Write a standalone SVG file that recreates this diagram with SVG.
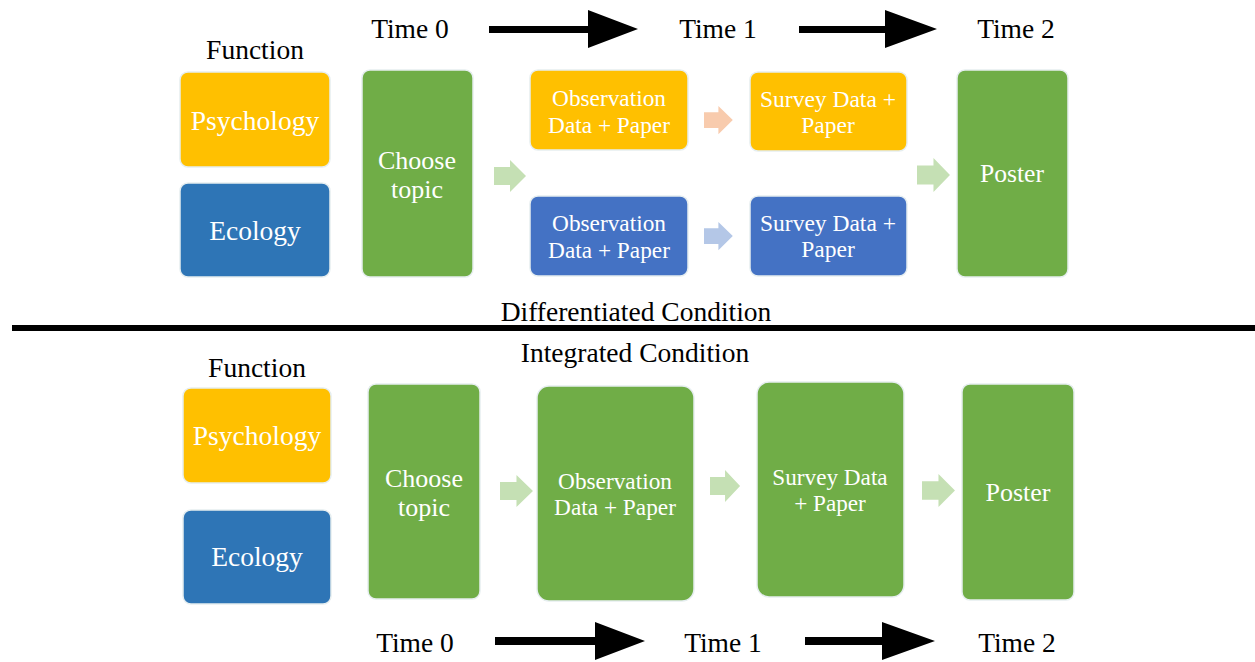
<svg xmlns="http://www.w3.org/2000/svg" xmlns:xlink="http://www.w3.org/1999/xlink" width="1255" height="662" viewBox="0 0 1255 662" font-family="'Liberation Serif', 'Times New Roman', serif">
<style>
text{font-family:'Liberation Serif','Times New Roman',serif}
.lbl{fill:#000;text-anchor:middle;font-size:27.5px}
.t{fill:#fff;text-anchor:middle}
.box{stroke:#e6eef0;stroke-width:1.5}
.or{fill:#FFC000}.bl{fill:#2E75B6}.bl2{fill:#4472C4}.gr{fill:#70AD47}
</style>
<defs>
<path id="blk" d="M0,7 H16 V0 L32,16 L16,32 V25 H0 Z"/>
</defs>
<rect width="1255" height="662" fill="#fff"/>

<g id="timeline-top">
<text class="lbl" x="410" y="38">Time 0</text>
<text class="lbl" x="718" y="38">Time 1</text>
<text class="lbl" x="1016" y="38">Time 2</text>
<path d="M489,26 H588 V10 L638,29 L588,48 V33 H489 Z" fill="#000"/>
<path d="M799,26 H885 V10 L937,29 L885,48 V33 H799 Z" fill="#000"/>
</g>

<text class="lbl" x="255" y="59">Function</text>

<g id="psych-top"><rect class="box or" x="180" y="72" width="150" height="95" rx="8"/><text class="t" x="255" y="130" font-size="27.5">Psychology</text></g>
<g id="eco-top"><rect class="box bl" x="180" y="183" width="150" height="94" rx="8"/><text class="t" x="255" y="240" font-size="27.5">Ecology</text></g>
<g id="choose-top"><rect class="box gr" x="362" y="70" width="111" height="207" rx="8"/><text class="t" x="417" y="169" font-size="26">Choose</text><text class="t" x="417" y="198" font-size="26">topic</text></g>
<g id="obs-top-psy"><rect class="box or" x="530" y="70" width="158" height="80" rx="8"/><text class="t" x="609" y="106" font-size="23.3">Observation</text><text class="t" x="609" y="133" font-size="23.3">Data + Paper</text></g>
<g id="obs-top-eco"><rect class="box bl2" x="530" y="196" width="158" height="80" rx="8"/><text class="t" x="609" y="231" font-size="23.3">Observation</text><text class="t" x="609" y="258" font-size="23.3">Data + Paper</text></g>
<g id="survey-top-psy"><rect class="box or" x="750" y="72" width="157" height="79" rx="8"/><text class="t" x="828" y="107" font-size="23.5">Survey Data +</text><text class="t" x="828" y="133" font-size="23.5">Paper</text></g>
<g id="survey-top-eco"><rect class="box bl2" x="750" y="196" width="157" height="80" rx="8"/><text class="t" x="828" y="231" font-size="23.5">Survey Data +</text><text class="t" x="828" y="257" font-size="23.5">Paper</text></g>
<g id="poster-top"><rect class="box gr" x="957" y="70" width="111" height="207" rx="8"/><text class="t" x="1012" y="182" font-size="25.6">Poster</text></g>

<g id="connectors">
<use xlink:href="#blk" fill="#C5E0B4" transform="translate(494,160)"/>
<use xlink:href="#blk" fill="#F8CBAD" transform="translate(704,106) scale(0.9,0.88)"/>
<use xlink:href="#blk" fill="#B4C7E7" transform="translate(704,222) scale(0.9,0.88)"/>
<use xlink:href="#blk" fill="#C5E0B4" transform="translate(917,158) scale(1.03,1.06)"/>
<use xlink:href="#blk" fill="#C5E0B4" transform="translate(500,475) scale(1.03,1)"/>
<use xlink:href="#blk" fill="#C5E0B4" transform="translate(710,470) scale(0.94,1)"/>
<use xlink:href="#blk" fill="#C5E0B4" transform="translate(922,474) scale(1.03,1.03)"/>
</g>

<rect x="12" y="325" width="1243" height="6" fill="#000"/>
<text class="lbl" x="636" y="321">Differentiated Condition</text>
<text class="lbl" x="635" y="362">Integrated Condition</text>

<text class="lbl" x="257" y="377">Function</text>
<g id="psych-bot"><rect class="box or" x="183" y="388" width="148" height="95" rx="8"/><text class="t" x="257" y="445" font-size="27.5">Psychology</text></g>
<g id="eco-bot"><rect class="box bl" x="183" y="510" width="148" height="94" rx="8"/><text class="t" x="257" y="566" font-size="27.5">Ecology</text></g>
<g id="choose-bot"><rect class="box gr" x="368" y="384" width="112" height="215" rx="8"/><text class="t" x="424" y="487" font-size="26">Choose</text><text class="t" x="424" y="516" font-size="26">topic</text></g>
<g id="obs-bot"><rect class="box gr" x="537" y="386" width="157" height="215" rx="12"/><text class="t" x="615" y="489" font-size="23.3">Observation</text><text class="t" x="615" y="515" font-size="23.3">Data + Paper</text></g>
<g id="survey-bot"><rect class="box gr" x="757" y="382" width="147" height="215" rx="12"/><text class="t" x="830" y="485" font-size="23.2">Survey Data</text><text class="t" x="830" y="511" font-size="23.2">+ Paper</text></g>
<g id="poster-bot"><rect class="box gr" x="962" y="384" width="112" height="216" rx="8"/><text class="t" x="1018" y="501" font-size="26">Poster</text></g>

<g id="timeline-bot">
<text class="lbl" x="415" y="652">Time 0</text>
<text class="lbl" x="723" y="652">Time 1</text>
<text class="lbl" x="1017" y="652">Time 2</text>
<path d="M495,637 H595 V622 L645,641 L595,660 V645 H495 Z" fill="#000"/>
<path d="M805,637 H882 V622 L935,641 L882,660 V645 H805 Z" fill="#000"/>
</g>
</svg>
